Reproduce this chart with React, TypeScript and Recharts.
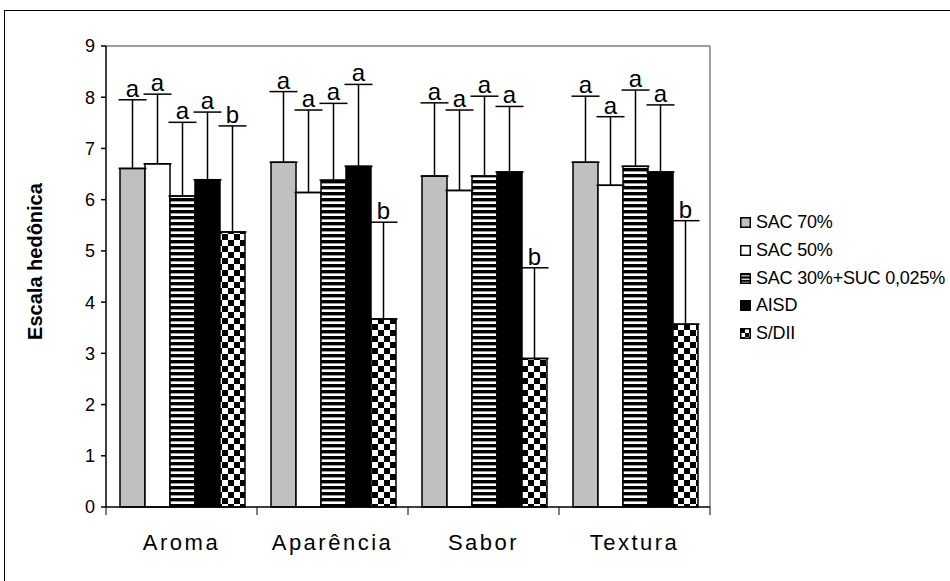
import { Bar, BarChart, ErrorBar, LabelList, ReferenceLine, XAxis, YAxis } from 'recharts';

const FONT = "'Liberation Sans', Arial, sans-serif";

const CATEGORIES = ['Aroma', 'Aparência', 'Sabor', 'Textura'];
const SERIES_NAMES = ['SAC 70%', 'SAC 50%', 'SAC 30%+SUC 0,025%', 'AISD', 'S/DII'];
const Y_TICKS = [0, 1, 2, 3, 4, 5, 6, 7, 8, 9];

// means
const SAC70 = [6.61, 6.73, 6.46, 6.73];
const SAC50 = [6.7, 6.14, 6.18, 6.28];
const SAC30 = [6.07, 6.38, 6.46, 6.65];
const AISD = [6.39, 6.65, 6.54, 6.54];
const SDII = [5.37, 3.67, 2.9, 3.57];

// standard deviations (only drawn upwards)
const SAC70_SD = [1.34, 1.38, 1.43, 1.29];
const SAC50_SD = [1.36, 1.61, 1.57, 1.34];
const SAC30_SD = [1.44, 1.5, 1.56, 1.49];
const AISD_SD = [1.32, 1.6, 1.28, 1.31];
const SDII_SD = [2.07, 1.89, 1.77, 2.02];

// Tukey letters
const SAC70_LETTERS = ['a', 'a', 'a', 'a'];
const SAC50_LETTERS = ['a', 'a', 'a', 'a'];
const SAC30_LETTERS = ['a', 'a', 'a', 'a'];
const AISD_LETTERS = ['a', 'a', 'a', 'a'];
const SDII_LETTERS = ['b', 'b', 'b', 'b'];

const MEANS = [SAC70, SAC50, SAC30, AISD, SDII];
const SDS = [SAC70_SD, SAC50_SD, SAC30_SD, AISD_SD, SDII_SD];
const LETTERS = [SAC70_LETTERS, SAC50_LETTERS, SAC30_LETTERS, AISD_LETTERS, SDII_LETTERS];
const FILLS = ['#c0c0c0', '#ffffff', 'url(#stripes)', '#000000', 'url(#checker)'];

const rows = CATEGORIES.map((name, c) => {
  const row: Record<string, any> = { name };
  MEANS.forEach((m, i) => {
    row[`v${i}`] = m[c];
    row[`sd${i}`] = SDS[i][c];
    row[`e${i}`] = [0, SDS[i][c]];
    row[`l${i}`] = LETTERS[i][c];
  });
  return row;
});

function CategoryTick(props: any) {
  const { x, y, payload, index, visibleTicksCount } = props;
  const half = payload.offset ?? 0;
  return (
    <g>
      <line x1={x - half} x2={x - half} y1={y} y2={y + 8} stroke="#000" strokeWidth={1} />
      {index === visibleTicksCount - 1 && <line x1={x + half} x2={x + half} y1={y} y2={y + 8} stroke="#000" strokeWidth={1} />}
      <text x={x} y={y + 43} textAnchor="middle" fontSize={22} letterSpacing={2.5} fill="#000" fontFamily={FONT}>
        {payload.value}
      </text>
    </g>
  );
}

function LegendIcon({ i }: { i: number }) {
  return (
    <svg width={11} height={11} style={{ display: 'block' }}>
      <defs>
        <pattern id={`lstripes${i}`} patternUnits="userSpaceOnUse" width={4} height={3.4}>
          <rect width={4} height={3.4} fill="#000" />
          <rect y={2.2} width={4} height={1.2} fill="#fff" />
        </pattern>
        <pattern id={`lchecker${i}`} patternUnits="userSpaceOnUse" width={8} height={8} x={1} y={1}>
          <rect width={8} height={8} fill="#fff" />
          <rect width={4} height={4} fill="#000" />
          <rect x={4} y={4} width={4} height={4} fill="#000" />
        </pattern>
      </defs>
      <rect
        x={0.75}
        y={0.75}
        width={9.5}
        height={9.5}
        fill={i === 2 ? `url(#lstripes${i})` : i === 4 ? `url(#lchecker${i})` : FILLS[i]}
        stroke="#000"
        strokeWidth={1.5}
      />
    </svg>
  );
}

export default function App() {
  return (
    <div style={{ position: 'absolute', left: 0, top: 0, width: 950, height: 581, overflow: 'hidden', background: '#fff', fontFamily: FONT }}>
      <div style={{ position: 'absolute', left: 4, top: 10, width: 946, height: 571, borderLeft: '1px solid #000', borderTop: '1px solid #000', boxSizing: 'border-box' }} />
      <BarChart
        width={950}
        height={581}
        data={rows}
        margin={{ top: 46, right: 240, bottom: 24, left: 45 }}
        barCategoryGap={14}
        barGap={0}
        style={{ position: 'absolute', left: 0, top: 0 }}
      >
        <defs>
          <pattern id="stripes" patternUnits="userSpaceOnUse" width={8} height={6}>
            <rect width={8} height={6} fill="#fff" />
            <rect width={8} height={3.4} fill="#000" />
          </pattern>
          <pattern id="checker" patternUnits="userSpaceOnUse" width={12} height={12}>
            <rect width={12} height={12} fill="#fff" />
            <rect width={6} height={6} fill="#000" />
            <rect x={6} y={6} width={6} height={6} fill="#000" />
          </pattern>
        </defs>
        <XAxis
          dataKey="name"
          tick={<CategoryTick />}
          tickLine={false}
          tickSize={0}
          tickMargin={0}
          height={50}
          axisLine={{ stroke: '#000', strokeWidth: 1.5 }}
          interval={0}
        />
        <YAxis
          domain={[0, 9]}
          ticks={Y_TICKS}
          interval={0}
          width={61}
          tickSize={5}
          tickMargin={6}
          tick={{ fontSize: 18, fill: '#000', fontFamily: FONT }}
          tickLine={{ stroke: '#000', strokeWidth: 1.5 }}
          axisLine={{ stroke: '#000', strokeWidth: 1.5 }}
          label={({ viewBox }: any) => {
            const cx = viewBox.x - 10;
            const cy = viewBox.y + viewBox.height / 2 - 15;
            return (
              <text x={cx} y={cy} transform={`rotate(-90 ${cx} ${cy})`} textAnchor="middle" dominantBaseline="central" fontSize={20} fontWeight="bold" fill="#000" fontFamily={FONT}>
                Escala hedônica
              </text>
            );
          }}
        />
        <ReferenceLine y={9} stroke="#808080" strokeWidth={1.5} />
        <ReferenceLine x="Textura" position="end" stroke="#808080" strokeWidth={1.5} />
        {SERIES_NAMES.map((name, i) => (
          <Bar key={`v${i}`} name={name} dataKey={`v${i}`} stackId={`g${i}`} fill={FILLS[i]} stroke="#000" strokeWidth={1.5} isAnimationActive={false}>
            <ErrorBar dataKey={`e${i}`} width={14} stroke="#000" strokeWidth={1.5} direction="y" />
          </Bar>
        ))}
        {SERIES_NAMES.map((name, i) => (
          <Bar key={`t${i}`} dataKey={`sd${i}`} stackId={`g${i}`} fill="none" stroke="none" isAnimationActive={false} legendType="none">
            <LabelList dataKey={`l${i}`} position="top" offset={3} fill="#000" fontSize={24} fontFamily={FONT} />
          </Bar>
        ))}
      </BarChart>
      <div style={{ position: 'absolute', left: 740, top: 209 }}>
        {SERIES_NAMES.map((name, i) => (
          <div key={name} style={{ height: 27.7, display: 'flex', alignItems: 'center', whiteSpace: 'nowrap' }}>
            <LegendIcon i={i} />
            <span style={{ marginLeft: 5, fontSize: 18, color: '#000', letterSpacing: -0.2 }}>{name}</span>
          </div>
        ))}
      </div>
    </div>
  );
}
